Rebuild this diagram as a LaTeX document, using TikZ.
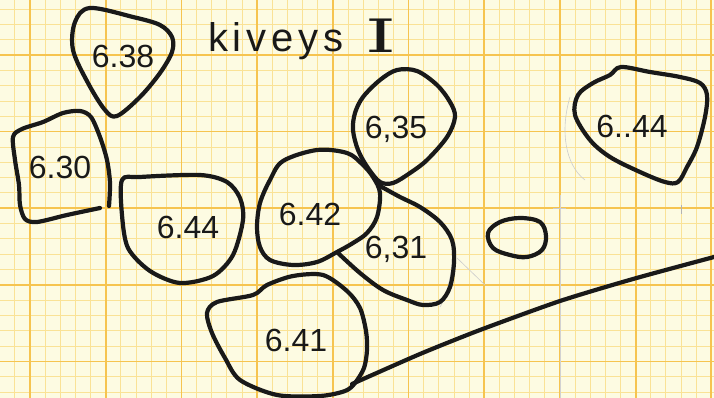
\documentclass[tikz,border=0pt]{standalone}
\usepackage{graphicx}
\usepackage{fontspec}
\setmainfont{Liberation Sans}
\newfontfamily\titlefont{Liberation Sans}[LetterSpace=12]
\newfontfamily\romanI{DejaVu Serif}
\definecolor{paper}{RGB}{253,251,226}
\definecolor{minorline}{RGB}{250,226,150}
\definecolor{majorline}{RGB}{246,196,80}
\definecolor{ink}{RGB}{25,25,25}
\tikzset{
  blob/.style={draw=ink,line width=4.2pt,line cap=round,line join=round},
  lbl/.style={font=\fontsize{32}{34}\selectfont,text=ink,inner sep=0pt},
  pencil/.style={draw=gray!40,line width=0.6pt},
  minorgrid/.style={draw=minorline,line width=0.8pt},
  majorgrid/.style={draw=majorline,line width=1.8pt}
}
\begin{document}
\begin{tikzpicture}[x=1pt,y=-1pt]
\useasboundingbox (0,0) rectangle (714,398);
\fill[paper] (0,0) rectangle (714,398);
% graph paper
\foreach \i in {-1,...,45} \draw[minorgrid] ({30+15.14*\i},0) -- ({30+15.14*\i},398);
\foreach \j in {-3,...,22} \draw[minorgrid] (0,{55+15.32*\j}) -- (714,{55+15.32*\j});
\foreach \i in {0,...,9} \draw[majorgrid] ({30+75.7*\i},0) -- ({30+75.7*\i},398);
\foreach \j in {0,...,4} \draw[majorgrid] (0,{55+76.6*\j}) -- (714,{55+76.6*\j});
% faint pencil marks
\draw[pencil] (570,97) .. controls (560,130) and (565,165) .. (585,180);
\draw[pencil] (455,243) .. controls (452,270) and (448,295) .. (440,307);
\draw[pencil] (457,258) -- (485,285);
\draw[draw=gray!35,line width=1pt] (560.7,195) -- (560.7,398);
\draw[pencil] (553,208) -- (566,208);
\draw[draw=gray!60,line width=1pt] (681,205) -- (681,214);
% stones
\draw[blob] plot[smooth cycle,tension=0.55] coordinates {(90,8) (133,17) (160,25) (172,37) (172,52) (160,73) (140,97) (117,116) (105,110) (88,83) (73,50) (75,22)};
\draw[blob] plot[smooth,tension=0.5] coordinates {(100,208) (67,215) (37,222) (25,219) (20,205) (19,185) (15,160) (13,137) (22,129) (43,122) (63,113) (80,111) (91,117) (100,137) (107,160) (110,183) (109,206)};
\draw[blob] plot[smooth cycle,tension=0.5] coordinates {(122,180) (140,177) (200,175) (227,182) (240,198) (243,220) (233,255) (213,276) (180,283) (150,271) (128,248) (122,215)};
\draw[blob] plot[smooth cycle,tension=0.55] coordinates {(283,161) (317,150) (347,153) (362,164) (373,177) (380,193) (377,217) (367,233) (353,243) (337,252) (317,262) (293,265) (270,260) (260,247) (257,227) (260,203) (270,180)};
\draw[blob] plot[smooth,tension=0.55] coordinates {(380,186) (400,197) (420,207) (440,222) (452,240) (454,262) (450,287) (440,302) (423,305) (407,300) (383,290) (360,273) (338,253)};
\draw[blob] plot[smooth cycle,tension=0.55] coordinates {(397,70) (417,71) (437,85) (450,102) (455,117) (447,137) (427,160) (410,173) (393,183) (380,182) (368,168) (358,150) (353,130) (355,113) (363,97) (380,80)};
\draw[blob] plot[smooth cycle,tension=0.5] coordinates {(207,313) (217,302) (253,295) (267,285) (293,276) (323,275) (347,291) (360,308) (366,331) (367,350) (364,368) (355,383) (345,391) (320,396) (277,395) (240,380) (225,358) (212,333)};
\draw[blob] plot[smooth,tension=0.4] coordinates {(352,384) (420,354) (480,330) (560,301) (633,279) (714,257)};
\draw[blob] plot[smooth cycle,tension=0.6] coordinates {(488,233) (500,222) (520,218) (540,222) (546,236) (542,250) (527,257) (510,255) (493,248)};
\draw[blob] plot[smooth cycle,tension=0.55] coordinates {(621,67) (650,72) (680,77) (700,83) (707,95) (705,117) (697,147) (687,167) (678,182) (665,182) (640,172) (610,157) (590,140) (575,115) (578,95) (593,83) (610,75)};
% labels
\node[lbl] (l638) at (123,56) {6.38};
\node[lbl] (l630) at (60,167) {6.30};
\node[lbl] (l644a) at (188,227) {6.44};
\node[lbl] (l642) at (310,214) {6.42};
\node[lbl] (l631) at (396,249) {6,31};
\node[lbl] (l635) at (396,129) {6,35};
\node[lbl] (l641) at (296,340) {6.41};
\node[lbl] (l644b) at (632,126) {6..44};
% title
\node[inner sep=0pt,anchor=base west,text=ink] (title) at (208,52) {\titlefont\fontsize{40}{42}\selectfont kiveys};
\node[inner sep=0pt,anchor=base,text=ink] (titleI) at (381,53) {\romanI\fontsize{46}{48}\selectfont\scalebox{1.7}[1]{I}};
\end{tikzpicture}
\end{document}
